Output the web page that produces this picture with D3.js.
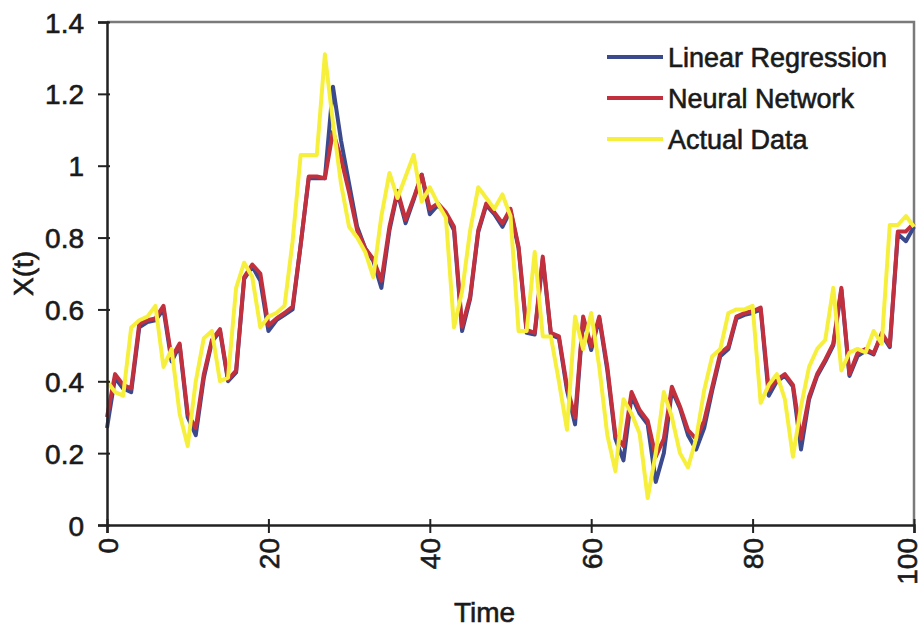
<!DOCTYPE html>
<html>
<head>
<meta charset="utf-8">
<script src="https://cdn.jsdelivr.net/npm/d3@7"></script>
<style>
  body { margin: 0; background: #fff; }
  text { font-family: "Liberation Sans", Arial, sans-serif; fill: #1a1a1a; stroke: #1a1a1a; stroke-width: 0.6px; }
</style>
</head>
<body>
<svg id="chart" width="924" height="628"></svg>
<script>
// values, t = 0..100
var actual = [0.40,0.37,0.36,0.55,0.57,0.58,0.61,0.44,0.49,0.31,
  0.22,0.40,0.52,0.54,0.40,0.41,0.66,0.73,0.69,0.55,
  0.58,0.59,0.61,0.79,1.03,1.03,1.03,1.31,1.12,0.95,
  0.83,0.80,0.76,0.69,0.86,0.98,0.91,0.97,1.03,0.90,
  0.94,0.895,0.855,0.55,0.65,0.82,0.94,0.91,0.88,0.92,
  0.86,0.54,0.54,0.76,0.525,0.525,0.40,0.265,0.58,0.49,
  0.59,0.44,0.25,0.15,0.35,0.31,0.255,0.075,0.20,0.37,
  0.30,0.20,0.16,0.24,0.375,0.47,0.49,0.59,0.60,0.60,
  0.61,0.34,0.39,0.42,0.35,0.19,0.33,0.44,0.49,0.515,
  0.66,0.43,0.48,0.49,0.48,0.54,0.505,0.835,0.835,0.86,
  0.83]

var neural = [0.30,0.42,0.39,0.38,0.56,0.57,0.575,0.61,0.465,0.505,
  0.31,0.27,0.42,0.515,0.545,0.405,0.43,0.69,0.725,0.70,
  0.555,0.575,0.59,0.608,0.78,0.97,0.97,0.965,1.095,1.02,
  0.925,0.82,0.77,0.74,0.68,0.83,0.93,0.85,0.91,0.975,
  0.88,0.895,0.87,0.83,0.552,0.636,0.82,0.895,0.87,0.84,
  0.88,0.775,0.543,0.535,0.747,0.535,0.525,0.385,0.30,0.58,
  0.497,0.58,0.44,0.25,0.22,0.37,0.32,0.29,0.19,0.24,
  0.385,0.33,0.264,0.24,0.29,0.385,0.478,0.497,0.58,0.59,
  0.595,0.605,0.376,0.404,0.42,0.39,0.24,0.357,0.42,0.46,
  0.505,0.66,0.42,0.478,0.49,0.478,0.534,0.50,0.817,0.817,
  0.84]

var linear = [0.27,0.41,0.38,0.37,0.55,0.565,0.57,0.60,0.455,0.50,
  0.30,0.25,0.41,0.51,0.54,0.40,0.425,0.685,0.72,0.68,
  0.54,0.57,0.585,0.60,0.78,0.965,0.965,0.965,1.22,1.07,
  0.95,0.83,0.77,0.735,0.66,0.82,0.925,0.84,0.905,0.975,
  0.865,0.89,0.865,0.82,0.54,0.63,0.815,0.89,0.865,0.83,
  0.875,0.77,0.535,0.53,0.74,0.53,0.52,0.375,0.28,0.575,
  0.487,0.575,0.43,0.24,0.18,0.36,0.31,0.28,0.12,0.20,
  0.375,0.325,0.25,0.21,0.27,0.375,0.47,0.49,0.575,0.585,
  0.59,0.60,0.36,0.40,0.415,0.385,0.21,0.35,0.415,0.455,
  0.50,0.655,0.415,0.47,0.485,0.475,0.53,0.495,0.81,0.79,
  0.83]

var series = [
  {name: "Linear Regression", values: linear, color: "#3b4a8c"},
  {name: "Neural Network", values: neural, color: "#c3303d"},
  {name: "Actual Data", values: actual, color: "#f6f03c"}
]
var xTicks = [0, 20, 40, 60, 80, 100]
var yTicks = [0, 0.2, 0.4, 0.6, 0.8, 1, 1.2, 1.4]

var margin = {top: 22, right: 10, bottom: 103, left: 107},
  w = 924 - margin.left - margin.right,
  h = 628 - margin.top - margin.bottom

var svg = d3.select("#chart")
var g = svg.append("g").attr("transform", `translate(${margin.left},${margin.top})`)

var x = d3.scaleLinear().domain([0, 100]).range([0, w])
var y = d3.scaleLinear().domain([0, 1.4]).range([h, 0])

// top and right border of the plot area
g.append("path")
  .attr("d", `M0,0H${x(100)}V${h}`)
  .attr("fill", "none")
  .attr("stroke", "#7a7a7a")
  .attr("stroke-width", 2.5)

var line = d3.line()
  .x((d, i) => x(i))
  .y(d => y(d))

g.selectAll(".series")
  .data(series)
  .join("path")
  .attr("class", "series")
  .attr("d", d => line(d.values))
  .attr("fill", "none")
  .attr("stroke", d => d.color)
  .attr("stroke-width", 4)
  .attr("stroke-linejoin", "round")

// y axis
var yAxis = g.append("g")
  .call(d3.axisLeft(y).tickValues(yTicks).tickFormat(d3.format("~g")).tickSize(9).tickPadding(14))
yAxis.select(".domain").attr("stroke", "#222").attr("stroke-width", 2.5)
yAxis.selectAll(".tick line").attr("stroke", "#222").attr("stroke-width", 2).attr("x2", -9).attr("x1", 3)
yAxis.selectAll(".tick text")
  .style("font-size", "28px")
  .attr("dy", "0.36em")

// x axis
var xAxis = g.append("g")
  .attr("transform", `translate(0,${h})`)
  .call(d3.axisBottom(x).tickValues(xTicks).tickSize(8))
xAxis.select(".domain").attr("stroke", "#222").attr("stroke-width", 2.5)
xAxis.selectAll(".tick line").attr("stroke", "#222").attr("stroke-width", 2).attr("y1", -6).attr("y2", 8)
xAxis.selectAll(".tick text")
  .style("font-size", "28px")
  .attr("text-anchor", "end")
  .attr("y", 0)
  .attr("dy", d => d === 100 ? "0.1em" : "0.36em")
  .attr("transform", "translate(0,13) rotate(-90)")

svg.append("text")
  .attr("x", margin.left + w / 2 - 26)
  .attr("y", 622)
  .attr("text-anchor", "middle")
  .style("font-size", "28px")
  .text("Time")

svg.append("text")
  .attr("transform", `translate(33,${margin.top + h / 2}) rotate(-90)`)
  .attr("text-anchor", "middle")
  .style("font-size", "28px")
  .text("X(t)")

// legend
var legend = svg.append("g").attr("transform", "translate(607,57)")
var items = legend.selectAll("g")
  .data(series)
  .join("g")
  .attr("transform", (d, i) => `translate(0,${i * 41})`)
items.append("line")
  .attr("x1", 0).attr("x2", 56)
  .attr("stroke", d => d.color)
  .attr("stroke-width", 4)
items.append("text")
  .attr("x", 61)
  .attr("dy", "0.36em")
  .style("font-size", "27px")
  .text(d => d.name)
</script>
</body>
</html>
